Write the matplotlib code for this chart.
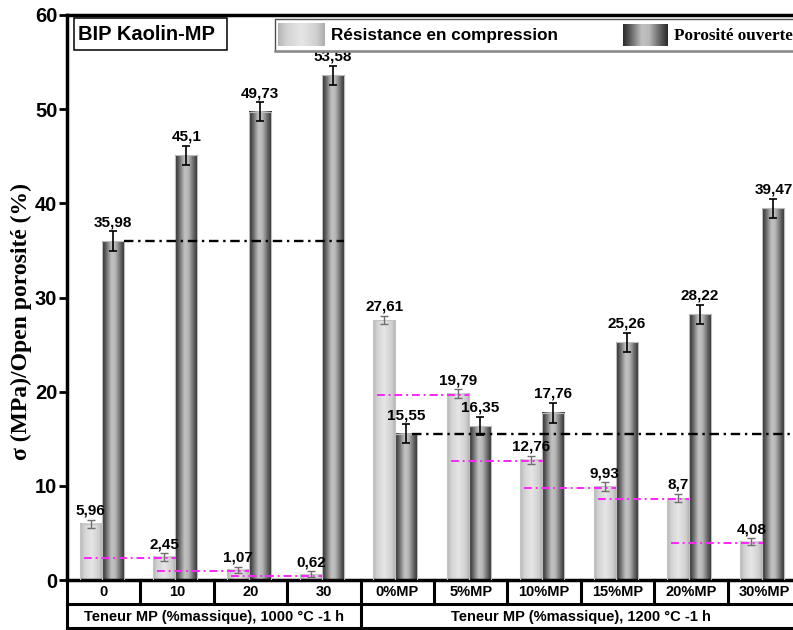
import numpy as np
import matplotlib
matplotlib.use("Agg")
import matplotlib.pyplot as plt
from matplotlib.colors import LinearSegmentedColormap
from matplotlib.patches import Rectangle
from matplotlib.lines import Line2D
import matplotlib.transforms as mtransforms

# ---------------- data ----------------
categories = ["0", "10", "20", "30", "0%MP", "5%MP", "10%MP", "15%MP", "20%MP", "30%MP"]
group_labels = ["Teneur MP (%massique), 1000 °C -1 h", "Teneur MP (%massique), 1200 °C -1 h"]
group_sizes = [4, 6]
resistance = [5.96, 2.45, 1.07, 0.62, 27.61, 19.79, 12.76, 9.93, 8.70, 4.08]
resistance_err = [0.45, 0.40, 0.35, 0.30, 0.45, 0.45, 0.45, 0.45, 0.45, 0.35]
porosity = [35.98, 45.10, 49.73, 53.58, 15.55, 16.35, 17.76, 25.26, 28.22, 39.47]
porosity_err = [1.05, 1.0, 1.0, 1.0, 1.0, 1.0, 1.05, 1.0, 1.0, 1.0]
resistance_labels = ["5,96", "2,45", "1,07", "0,62", "27,61", "19,79", "12,76", "9,93", "8,7", "4,08"]
porosity_labels = ["35,98", "45,1", "49,73", "53,58", "15,55", "16,35", "17,76", "25,26", "28,22", "39,47"]
series_names = ["Résistance en compression", "Porosité ouverte"]
yticks = [0, 10, 20, 30, 40, 50, 60]
title_text = "BIP Kaolin-MP"
ylabel_text = "σ (MPa)/Open porosité (%)"

# ---------------- figure ----------------
W, H = 793, 630
fig = plt.figure(figsize=(W / 100, H / 100), dpi=100)
fx = lambda px: px / W
fy = lambda py: 1 - py / H

SANS = ["Liberation Sans", "DejaVu Sans"]
SERIF = ["Liberation Serif", "DejaVu Serif"]

ax_left, ax_right, ax_top, ax_bot = 67, 801, 15, 580
ax = fig.add_axes([fx(ax_left), fy(ax_bot), (ax_right - ax_left) / W, (ax_bot - ax_top) / H])

n = len(categories)
x = np.arange(n)
bw = 0.30
off_r, off_p = -0.175, 0.125

light_cmap = LinearSegmentedColormap.from_list(
    "light", [(0, "#b4b4b4"), (0.18, "#d2d2d2"), (0.5, "#e6e6e6"), (0.82, "#d0d0d0"), (1, "#acacac")])
dark_cmap = LinearSegmentedColormap.from_list(
    "dark", [(0, "#2a2a2a"), (0.12, "#505050"), (0.42, "#c2c2c2"), (0.58, "#b8b8b8"), (0.88, "#505050"), (1, "#2a2a2a")])

grad = np.linspace(0, 1, 256).reshape(1, -1)

bars_r = ax.bar(x + off_r, resistance, bw, facecolor="none", edgecolor="#c4c4c4", lw=0.8, zorder=3)
bars_p = ax.bar(x + off_p, porosity, bw, facecolor="none", edgecolor="#bdbdbd", lw=0.8, zorder=3)
for bars, cmap in ((bars_r, light_cmap), (bars_p, dark_cmap)):
    for r in bars:
        x0, y0, w, h = r.get_x(), r.get_y(), r.get_width(), r.get_height()
        ax.imshow(grad, cmap=cmap, extent=(x0, x0 + w, y0, y0 + h), aspect="auto",
                  origin="lower", interpolation="bicubic", zorder=2)

ax.errorbar(x + off_r, resistance, yerr=resistance_err, fmt="none", ecolor="#6e6e6e",
            elinewidth=1, capsize=3, capthick=1, zorder=4)
ax.errorbar(x + off_p, porosity, yerr=porosity_err, fmt="none", ecolor="black",
            elinewidth=1.2, capsize=3, capthick=1.2, zorder=4)

for xi, v, e, lab in zip(x + off_r, resistance, resistance_err, resistance_labels):
    ax.annotate(lab, (xi, v + e), xytext=(0, 1.5), textcoords="offset points", ha="center",
                va="bottom", fontsize=11, fontweight="bold", family=SANS, zorder=6)
for xi, v, e, lab in zip(x + off_p, porosity, porosity_err, porosity_labels):
    ax.annotate(lab, (xi, v + e), xytext=(0, 1.5), textcoords="offset points", ha="center",
                va="bottom", fontsize=11, fontweight="bold", family=SANS, zorder=6)

# black dash-dot reference lines (first sample of each series)
dd = (0, (4, 2, 1, 2))
ax.plot([x[0] + off_p + bw / 2, x[3] + off_p + bw / 2], [porosity[0]] * 2, color="black",
        lw=1.7, ls=dd, zorder=5)
ax.plot([x[4] + off_p + 0.07, 9.5], [porosity[4]] * 2, color="black", lw=1.7, ls=dd, zorder=5)

# magenta dash-dot lines: level of next resistance value
for i in range(0, 9):
    if i == 3:
        continue
    ax.plot([x[i] - 0.27, x[i + 1] - 0.02], [resistance[i + 1] - 0.15] * 2, color="#ff22ff",
            lw=1.4, ls=dd, zorder=5)

ax.set_xlim(-0.5, 9.5)
ax.set_ylim(0, 60)
ax.set_yticks(yticks)
ax.set_xticks([])
ax.tick_params(axis="y", direction="out", length=6, width=2, pad=1, labelsize=14.5)
for t in ax.get_yticklabels():
    t.set_fontweight("bold")
    t.set_family(SANS)
for s in ("top", "left", "bottom"):
    ax.spines[s].set_linewidth(2.5)
ax.spines["right"].set_visible(False)

fig.text(fx(21), fy(321), ylabel_text, rotation=90, ha="center", va="center",
         fontsize=17, fontweight="bold", family=SERIF)

# ---------------- bottom table ----------------
trans = mtransforms.blended_transform_factory(ax.transData, fig.transFigure)
row1_top, row1_bot, row2_bot = 580, 604, 628
tlw = 2.2
for yy in (row1_bot, row2_bot):
    fig.add_artist(Line2D([-0.5, 9.5], [fy(yy)] * 2, transform=trans, color="black", lw=tlw, clip_on=False))
for b in np.arange(n + 1) - 0.5:
    fig.add_artist(Line2D([b, b], [fy(row1_top), fy(row1_bot)], transform=trans, color="black", lw=tlw, clip_on=False))
bounds = [-0.5]
for g in group_sizes:
    bounds.append(bounds[-1] + g)
for b in bounds:
    fig.add_artist(Line2D([b, b], [fy(row1_bot), fy(row2_bot)], transform=trans, color="black", lw=tlw, clip_on=False))
for xi, c in zip(x, categories):
    fig.text(xi, fy(592), c, transform=trans, ha="center", va="center", fontsize=10.5,
             fontweight="bold", family=SANS)
for gi, gl in enumerate(group_labels):
    xc = (bounds[gi] + bounds[gi + 1]) / 2
    fig.text(xc, fy(616.5), gl, transform=trans, ha="center", va="center", fontsize=10.5,
             fontweight="bold", family=SANS)

# ---------------- title box & legend ----------------
fig.add_artist(Rectangle((fx(74), fy(50)), fx(227) - fx(74), fy(18) - fy(50), transform=fig.transFigure,
                         facecolor="white", edgecolor="black", lw=1.1, zorder=10))
fig.text(fx(78), fy(34.5), title_text, ha="left", va="center", fontsize=14.5, fontweight="bold",
         family=SANS, zorder=11)

fig.add_artist(Rectangle((fx(275), fy(51)), fx(805) - fx(275), fy(19) - fy(51), transform=fig.transFigure,
                         facecolor="white", edgecolor="#505050", lw=1.0, zorder=10))
fig.add_artist(Line2D([fx(275), fx(805)], [fy(51)] * 2, transform=fig.transFigure, color="#8a8a8a",
                       lw=1.8, zorder=11))
pa = fig.add_axes([fx(278), fy(46), fx(325) - fx(278), fy(23) - fy(46)], zorder=12)
pa.imshow(grad, cmap=light_cmap, aspect="auto", interpolation="bicubic")
pa.axis("off")
pb = fig.add_axes([fx(623), fy(46), fx(668) - fx(623), fy(24) - fy(46)], zorder=12)
pb.imshow(grad, cmap=dark_cmap, aspect="auto", interpolation="bicubic")
pb.axis("off")
fig.text(fx(331), fy(35.5), series_names[0], ha="left", va="center", fontsize=12.3, fontweight="bold",
         family=SANS, zorder=13)
fig.text(fx(674), fy(35.5), series_names[1], ha="left", va="center", fontsize=12.3, fontweight="bold",
         family=SERIF, zorder=13)

fig.savefig("out.png", dpi=100)
